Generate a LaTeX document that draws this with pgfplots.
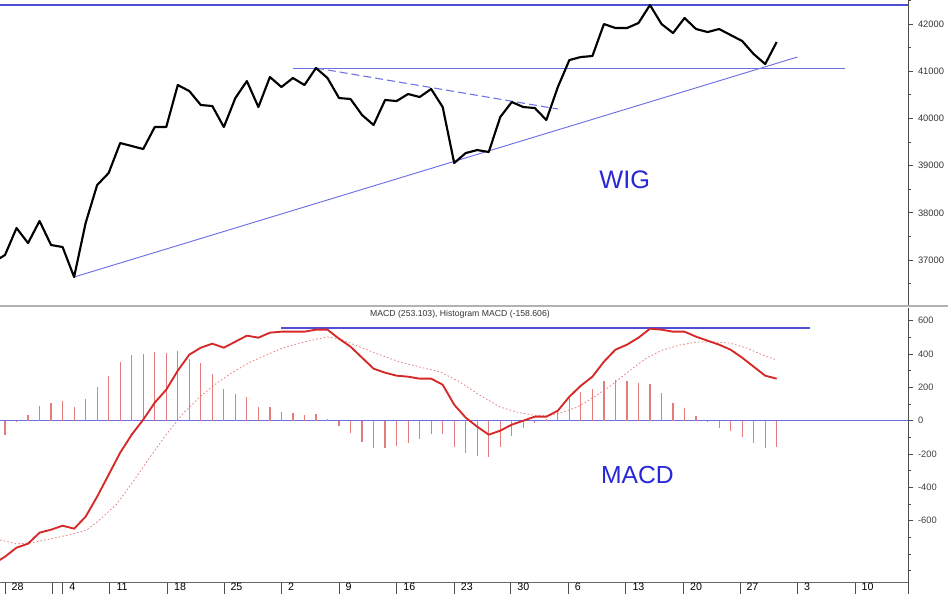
\documentclass[border=0pt]{standalone}
\usepackage{fontspec}
\setmainfont{Liberation Sans}
\usepackage{pgfplots}
\pgfplotsset{compat=1.18}

\definecolor{trend}{RGB}{110,110,230}
\definecolor{trendthick}{RGB}{80,80,215}
\definecolor{labelblue}{RGB}{40,40,215}
\definecolor{macdred}{RGB}{215,40,40}
\definecolor{sigred}{RGB}{228,128,128}
\definecolor{histred}{RGB}{225,125,125}

\begin{document}
\begin{tikzpicture}
  \useasboundingbox (0pt,0pt) rectangle (711pt,-444.75pt);

  % --- WIG panel ---
  \begin{axis}[
      at={(0pt,0pt)}, anchor=north west,
      scale only axis, width=681pt, height=228.75pt,
      xmin=-0.434, xmax=78.4, ymin=36046, ymax=42509,
      axis x line=none, axis y line*=right,
      axis line style={-, black!70, line width=0.6pt},
      tick align=outside, major tick length=4pt, minor tick length=2pt,
      tick style={black!70, line width=0.5pt},
      ytick={37000,38000,...,42000},
      minor ytick={36500,37500,...,42500},
      scaled y ticks=false,
      yticklabel style={font=\fontsize{7}{8}\selectfont, black!80},
      /pgf/number format/set thousands separator={},
      /pgf/number format/assume math mode=true,
    ]
    % resistance and trend lines
    \addplot[trendthick, line width=1.4pt] coordinates {(-0.434,42400) (78.4,42400)};
    \addplot[trend, line width=0.7pt] coordinates {(25,41050) (72.9,41050)};
    \addplot[trend, line width=0.7pt] coordinates {(6,36639) (68.8,41301)};
    \addplot[trend, line width=0.8pt, dash pattern=on 6pt off 3pt] coordinates {(27,41068) (48,40199)};

    % WIG close
    \addplot[black, line width=1.6pt, line join=round] coordinates {
      (-1,36957) (0,37105) (1,37677) (2,37359) (3,37826) (4,37317) (5,37275)
      (6,36639) (7,37783) (8,38588) (9,38843) (10,39478) (11,39415) (12,39351)
      (13,39817) (14,39817) (15,40707) (16,40580) (17,40284) (18,40262) (19,39817)
      (20,40432) (21,40792) (22,40241) (23,40877) (24,40665) (25,40856) (26,40707)
      (27,41068) (28,40856) (29,40432) (30,40411) (31,40072) (32,39860) (33,40390)
      (34,40368) (35,40517) (36,40453) (37,40623) (38,40241) (39,39055) (40,39266)
      (41,39330) (42,39288) (43,40029) (44,40347) (45,40241) (46,40220) (47,39966)
      (48,40665) (49,41237) (50,41301) (51,41322) (52,42000) (53,41915) (54,41915)
      (55,42021) (56,42403) (57,42000) (58,41809) (59,42127) (60,41894) (61,41830)
      (62,41894) (63,41767) (64,41640) (65,41364) (66,41152) (67,41619)
    };

    \node[labelblue, font=\fontsize{19}{20}\selectfont] at (axis cs:53.8,38694) {WIG};
  \end{axis}

  % --- MACD panel: date axis ---
  \begin{axis}[
      at={(0pt,-436.5pt)}, anchor=south west,
      scale only axis, width=681pt, height=205.5pt,
      xmin=-0.434, xmax=78.4, ymin=-968, ymax=676,
      axis x line*=bottom, axis y line=none,
      axis line style={-, black!60, line width=0.6pt},
      tick align=outside, major tick length=9pt,
      tick style={black!70, line width=0.5pt},
      xtick={0,4.1,5,9.1,14.1,19,24,29,34,39,43.9,48.9,53.9,58.9,63.8,68.8,73.8,78.4},
      xticklabels={28,,4,11,18,25,2,9,16,23,30,6,13,20,27,3,10,},
      xticklabel style={font=\fontsize{8}{9}\selectfont, anchor=north west, xshift=1.5pt, yshift=11.5pt},
      /pgf/number format/assume math mode=true,
    ]
  \end{axis}

  % --- MACD panel ---
  \begin{axis}[
      at={(0pt,-436.5pt)}, anchor=south west,
      scale only axis, width=681pt, height=205.5pt,
      xmin=-0.434, xmax=78.4, ymin=-968, ymax=676,
      axis x line=none, axis y line*=right,
      axis line style={-, black!70, line width=0.6pt},
      tick align=outside, major tick length=4pt, minor tick length=2pt,
      tick style={black!70, line width=0.5pt},
      ytick={-600,-400,...,600},
      minor ytick={-900,-800,-700,-500,-300,-100,100,300,500},
      yticklabel style={font=\fontsize{7}{8}\selectfont, black!75},
      /pgf/number format/assume math mode=true,
    ]
    \addplot[trend, line width=0.8pt] coordinates {(-0.434,0) (78.4,0)};
    \addplot[trendthick, line width=1.4pt] coordinates {(24,555) (69.9,555)};

    % histogram MACD
    \addplot[ycomb, histred, line width=0.9pt, mark=none] coordinates {
      (0,-86) (1,-4) (2,34) (3,88) (4,108) (5,120) (6,84) (7,128) (8,204) (9,268)
      (10,354) (11,394) (12,400) (13,414) (14,404) (15,420) (16,370) (17,344)
      (18,280) (19,188) (20,158) (21,144) (22,84) (23,80) (24,54) (25,48) (26,34)
      (27,38) (28,8) (29,-32) (30,-72) (31,-126) (32,-166) (33,-162) (34,-152)
      (35,-132) (36,-112) (37,-82) (38,-82) (39,-156) (40,-192) (41,-210) (42,-216)
      (43,-156) (44,-92) (45,-42) (46,-12) (47,8) (48,58) (49,134) (50,174)
      (51,188) (52,238) (53,244) (54,238) (55,224) (56,220) (57,164) (58,108)
      (59,74) (60,28) (61,-10) (62,-42) (63,-62) (64,-96) (65,-136) (66,-166) (67,-159)
    };

    % signal line
    \addplot[sigred, line width=0.6pt, dash pattern=on 1.2pt off 1.6pt] coordinates {
      (-0.43,-716) (1.04,-740) (2.17,-734) (3.9,-710) (5.9,-680) (7.1,-656)
      (8.2,-596) (9.7,-500) (11.1,-368) (12.6,-218) (14.1,-74) (15.5,46)
      (16.9,142) (18.4,226) (19.8,292) (21.3,352) (22.7,394) (24.1,436)
      (25.6,466) (27.1,490) (28.0,502) (29.1,490) (30.8,442) (32.6,394)
      (34.3,352) (36.0,322) (37.8,292) (39.5,232) (41.2,154) (43.0,82)
      (44.4,52) (45.8,34) (47.0,28) (48.2,46) (49.7,82) (51.0,136) (52.6,210)
      (54.3,304) (55.7,376) (57.1,424) (58.6,454) (60.1,472) (61.5,472)
      (62.9,466) (64.4,436) (65.8,394) (67.0,364)
    };

    % MACD line
    \addplot[macdred, line width=1.4pt, line join=round] coordinates {
      (-1,-860) (0,-816) (1,-762) (2,-738) (3,-672) (4,-654) (5,-630) (6,-648)
      (7,-576) (8,-456) (9,-324) (10,-192) (11,-84) (12,6) (13,108) (14,186)
      (15,300) (16,396) (17,438) (18,462) (19,438) (20,474) (21,510) (22,498)
      (23,528) (24,534) (25,534) (26,534) (27,546) (28,546) (29,492) (30,444)
      (31,378) (32,312) (33,288) (34,270) (35,264) (36,252) (37,252) (38,216)
      (39,96) (40,18) (41,-36) (42,-84) (43,-60) (44,-24) (45,0) (46,24) (47,24)
      (48,60) (49,144) (50,210) (51,264) (52,354) (53,426) (54,456) (55,498)
      (56,552) (57,546) (58,534) (59,534) (60,504) (61,480) (62,456) (63,426)
      (64,378) (65,324) (66,270) (67,252)
    };

    \node[labelblue, font=\fontsize{18.5}{20}\selectfont] at (axis cs:54.9,-326) {MACD};
    \node[font=\fontsize{6.5}{7}\selectfont, black!80] at (axis cs:39.5,636)
      {MACD (253.103), Histogram MACD (-158.606)};
  \end{axis}

  % panel separator
  \draw[black!30, line width=1.5pt] (0pt,-229.5pt) -- (711pt,-229.5pt);
\end{tikzpicture}
\end{document}
